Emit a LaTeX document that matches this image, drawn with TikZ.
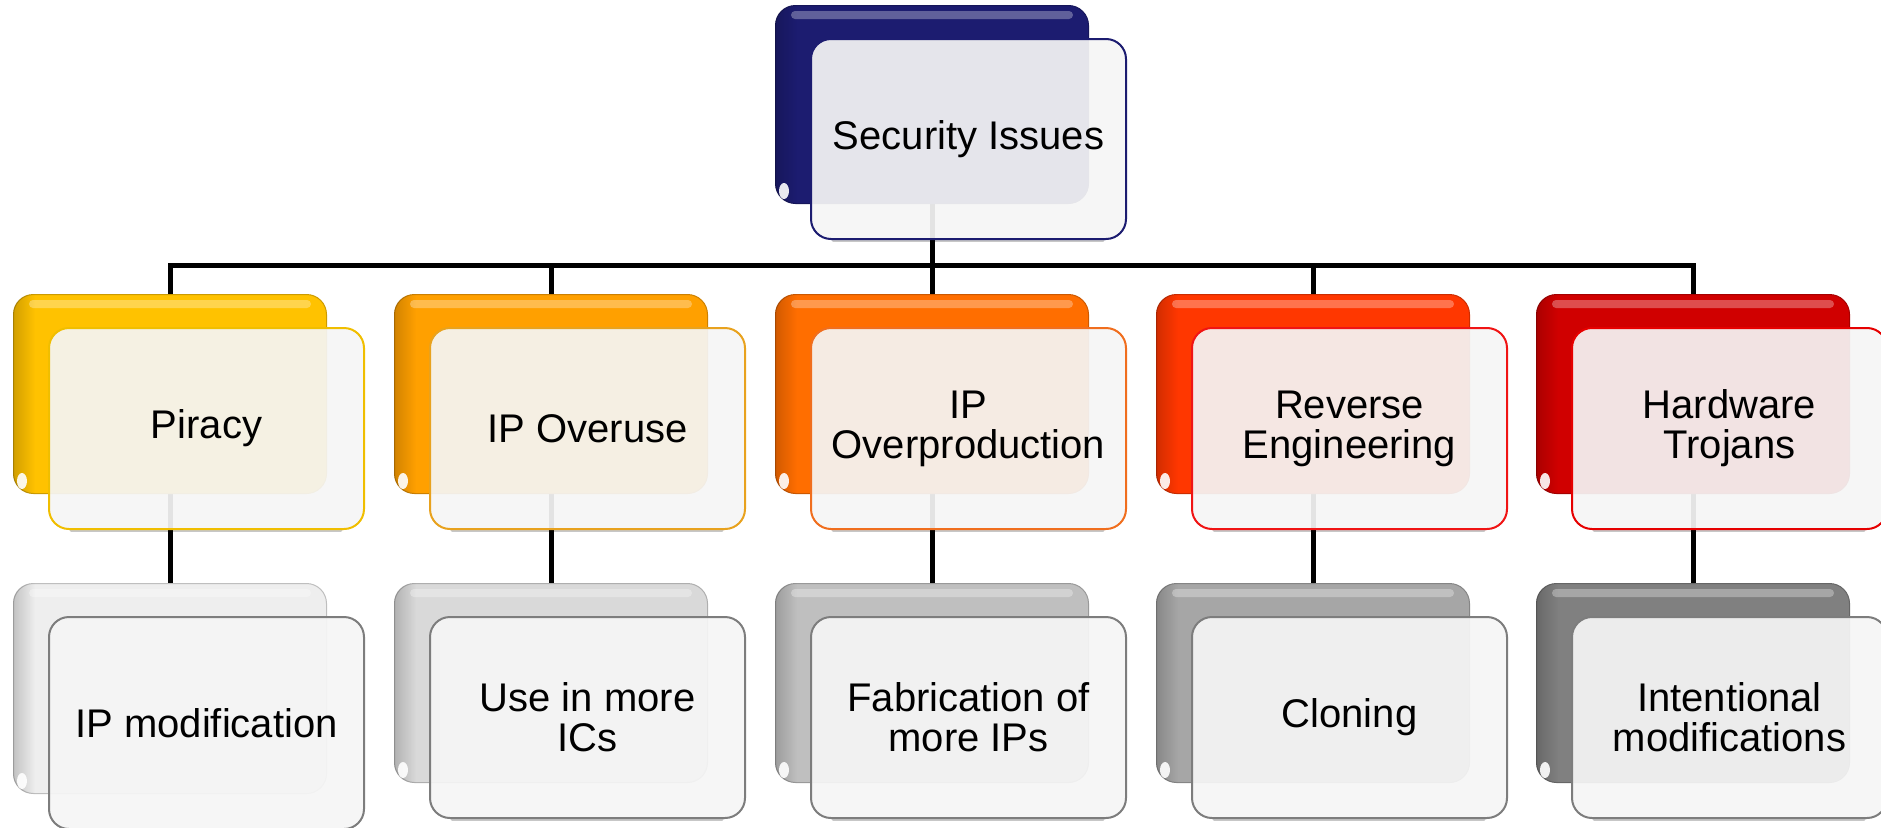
\documentclass[tikz,border=0pt]{standalone}
\usepackage{fontspec}
\setmainfont{Liberation Sans}
\usetikzlibrary{calc,fadings}
\pgfdeclarelayer{background}
\pgfsetlayers{background,main}

% card colours
\definecolor{navyc}{RGB}{28,28,112}
\definecolor{goldc}{RGB}{255,194,0}
\definecolor{goldl}{RGB}{240,190,0}
\definecolor{ovuc}{RGB}{255,160,0}
\definecolor{ovul}{RGB}{232,162,30}
\definecolor{ovpc}{RGB}{255,110,0}
\definecolor{ovpl}{RGB}{240,110,30}
\definecolor{revc}{RGB}{255,55,0}
\definecolor{revl}{RGB}{240,20,20}
\definecolor{hwtc}{RGB}{208,0,0}
\definecolor{hwtl}{RGB}{230,0,0}
\definecolor{gA}{RGB}{238,238,238}
\definecolor{gB}{RGB}{217,217,217}
\definecolor{gC}{RGB}{191,191,191}
\definecolor{gD}{RGB}{166,166,166}
\definecolor{gE}{RGB}{128,128,128}
\definecolor{gline}{RGB}{125,125,125}
\definecolor{cardface}{RGB}{245,245,245}

\tikzset{
  backcard/.style={rectangle, rounded corners=20pt, minimum width=313pt,
    line width=1pt, inner sep=0pt},
  frontcard/.style={rectangle, rounded corners=20pt, minimum width=315pt,
    line width=2pt, fill=cardface, fill opacity=0.93, text opacity=1,
    align=center, font=\fontsize{40}{40}\selectfont, inner sep=0pt, text=black},
  conn/.style={line width=5pt, draw=black},
}

% #1 name, #2 centre x, #3 top y, #4 height, #5 back colour, #6 front border, #7 label
\newcommand{\cardpair}[7]{%
  \node[backcard, fill=#5, draw=#5!80!black, minimum height=#4, anchor=north]
    (#1-b) at (#2,#3) {};
  % soft darker rim along the left edge of the back card
  \begin{scope}
    \clip[rounded corners=20pt] (#1-b.north west) rectangle (#1-b.south east);
    \fill[black, path fading=east, opacity=0.18]
      (#1-b.north west) rectangle ($(#1-b.south west)+(22,0)$);
  \end{scope}
  % gloss stripe along the top
  \fill[white, opacity=0.30, rounded corners=4pt]
    ($(#1-b.north west)+(16,6)$) rectangle ($(#1-b.north east)+(-16,14)$);
  % glint in the lower left corner
  \fill[white, opacity=0.9] ($(#1-b.south west)+(9,-13)$) ellipse [x radius=5, y radius=8];
  % soft shadow under the front card
  \draw[black, opacity=0.22, line width=3pt, line cap=round]
    ($(#1-b.north west)+(58,#4+37)$) -- ++(270,0);
  \node[frontcard, draw=#6, minimum height=#4+2, anchor=north west]
    (#1) at ($(#1-b.north west)+(35,33)$) {#7};
}

\begin{document}
\begin{tikzpicture}[x=1pt,y=-1pt]
\useasboundingbox (0,0) rectangle (1881,827);

% root
\cardpair{sec}{932}{5}{198}{navyc}{navyc}{Security Issues}

% issue categories
\cardpair{pir}{170}{294}{199}{goldc}{goldl}{Piracy}
\cardpair{ovu}{551}{294}{199}{ovuc}{ovul}{IP Overuse}
\cardpair{ovp}{932}{294}{199}{ovpc}{ovpl}{IP\\Overproduction}
\cardpair{rev}{1313}{294}{199}{revc}{revl}{Reverse\\Engineering}
\cardpair{hwt}{1693}{294}{199}{hwtc}{hwtl}{Hardware\\Trojans}

% consequences
\cardpair{pirs}{170}{583}{210}{gA}{gline}{IP modification}
\cardpair{ovus}{551}{583}{199}{gB}{gline}{Use in more\\ICs}
\cardpair{ovps}{932}{583}{199}{gC}{gline}{Fabrication of\\more IPs}
\cardpair{revs}{1313}{583}{199}{gD}{gline}{Cloning}
\cardpair{hwts}{1693}{583}{199}{gE}{gline}{Intentional\\modifications}

% connectors behind the cards
\begin{pgfonlayer}{background}
  \coordinate (bus) at (0,265);
  \foreach \n in {pir,ovu,ovp,rev,hwt} {
    \draw[conn] (sec-b.center) -- (sec-b.center |- bus) -| (\n-b.center);
    \draw[conn] (\n-b.center) -- (\n s-b.center);
  }
\end{pgfonlayer}
\end{tikzpicture}
\end{document}
